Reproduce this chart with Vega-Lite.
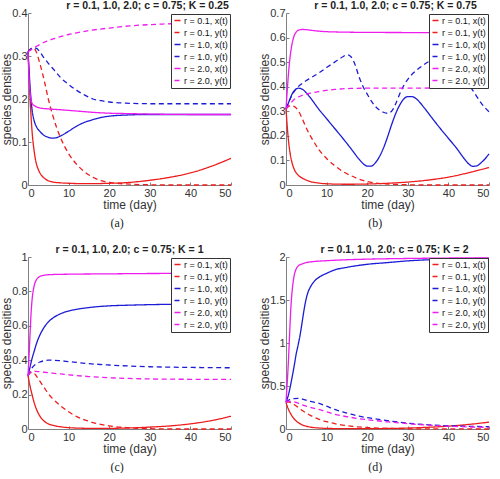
{
  "$schema": "https://vega.github.io/schema/vega-lite/v6.json",
  "padding": {"left": 0, "top": 0, "right": 0, "bottom": 0},
  "background": "white",
  "config": {
    "view": {"stroke": null},
    "font": "Liberation Sans",
    "axis": {"grid": false, "domainColor": "#808080", "tickColor": "#808080", "tickSize": -3, "labelColor": "#333333", "titleColor": "#333333", "labelFont": "Liberation Sans", "titleFont": "Liberation Sans", "labelFontSize": 11, "titleFontSize": 12, "titleFontWeight": "normal"},
    "axisX": {"titlePadding": 1, "labelPadding": 5},
    "axisY": {"titlePadding": -2, "labelPadding": 4},
    "title": {"font": "Liberation Sans", "fontSize": 10.5, "fontWeight": "bold", "color": "#222222", "offset": -4, "anchor": "middle"},
    "legend": {"orient": "top-right", "offset": 1, "fillColor": "white", "strokeColor": "#333333", "padding": 2, "labelFontSize": 9, "labelOffset": 2, "labelColor": "#111111", "rowPadding": 2, "symbolType": "stroke", "symbolSize": 36, "symbolStrokeWidth": 1.5, "title": null}
  },
  "datasets": {
    "a": [
      {"s":"x1","t":0,"v":0.31},{"s":"x1","t":0.25,"v":0.26},{"s":"x1","t":0.5,"v":0.2},{"s":"x1","t":0.75,"v":0.16},{"s":"x1","t":1,"v":0.125},{"s":"x1","t":1.5,"v":0.08},{"s":"x1","t":2,"v":0.052},{"s":"x1","t":2.5,"v":0.037},{"s":"x1","t":3,"v":0.027},{"s":"x1","t":4,"v":0.016},{"s":"x1","t":5,"v":0.01},{"s":"x1","t":6,"v":0.007},{"s":"x1","t":8,"v":0.005},{"s":"x1","t":10,"v":0.004},{"s":"x1","t":15,"v":0.003},{"s":"x1","t":20,"v":0.004},{"s":"x1","t":25,"v":0.006},{"s":"x1","t":30,"v":0.011},{"s":"x1","t":35,"v":0.018},{"s":"x1","t":40,"v":0.028},{"s":"x1","t":45,"v":0.043},{"s":"x1","t":50,"v":0.062},
      {"s":"y1","t":0,"v":0.31},{"s":"y1","t":0.5,"v":0.315},{"s":"y1","t":1,"v":0.318},{"s":"y1","t":1.5,"v":0.318},{"s":"y1","t":2,"v":0.31},{"s":"y1","t":3,"v":0.28},{"s":"y1","t":4,"v":0.243},{"s":"y1","t":5,"v":0.2},{"s":"y1","t":6,"v":0.165},{"s":"y1","t":7,"v":0.135},{"s":"y1","t":8,"v":0.11},{"s":"y1","t":9,"v":0.09},{"s":"y1","t":10,"v":0.073},{"s":"y1","t":12,"v":0.048},{"s":"y1","t":14,"v":0.03},{"s":"y1","t":16,"v":0.018},{"s":"y1","t":18,"v":0.01},{"s":"y1","t":20,"v":0.006},{"s":"y1","t":25,"v":0.002},{"s":"y1","t":30,"v":0.0005},{"s":"y1","t":35,"v":0},{"s":"y1","t":50,"v":0},
      {"s":"x2","t":0,"v":0.31},{"s":"x2","t":0.25,"v":0.27},{"s":"x2","t":0.5,"v":0.23},{"s":"x2","t":1,"v":0.175},{"s":"x2","t":1.5,"v":0.15},{"s":"x2","t":2,"v":0.137},{"s":"x2","t":3,"v":0.124},{"s":"x2","t":4,"v":0.115},{"s":"x2","t":5,"v":0.111},{"s":"x2","t":6,"v":0.109},{"s":"x2","t":7,"v":0.11},{"s":"x2","t":8,"v":0.114},{"s":"x2","t":10,"v":0.125},{"s":"x2","t":12,"v":0.137},{"s":"x2","t":14,"v":0.146},{"s":"x2","t":16,"v":0.152},{"s":"x2","t":18,"v":0.157},{"s":"x2","t":20,"v":0.16},{"s":"x2","t":25,"v":0.163},{"s":"x2","t":30,"v":0.164},{"s":"x2","t":50,"v":0.164},
      {"s":"y2","t":0,"v":0.31},{"s":"y2","t":0.5,"v":0.315},{"s":"y2","t":1,"v":0.318},{"s":"y2","t":2,"v":0.318},{"s":"y2","t":3,"v":0.308},{"s":"y2","t":4,"v":0.295},{"s":"y2","t":5,"v":0.283},{"s":"y2","t":6,"v":0.272},{"s":"y2","t":7,"v":0.261},{"s":"y2","t":8,"v":0.25},{"s":"y2","t":10,"v":0.234},{"s":"y2","t":12,"v":0.22},{"s":"y2","t":14,"v":0.209},{"s":"y2","t":16,"v":0.2},{"s":"y2","t":18,"v":0.196},{"s":"y2","t":20,"v":0.193},{"s":"y2","t":25,"v":0.19},{"s":"y2","t":30,"v":0.189},{"s":"y2","t":50,"v":0.189},
      {"s":"x3","t":0,"v":0.31},{"s":"x3","t":0.25,"v":0.25},{"s":"x3","t":0.5,"v":0.215},{"s":"x3","t":0.75,"v":0.198},{"s":"x3","t":1,"v":0.19},{"s":"x3","t":1.5,"v":0.185},{"s":"x3","t":2,"v":0.182},{"s":"x3","t":3,"v":0.179},{"s":"x3","t":5,"v":0.177},{"s":"x3","t":8,"v":0.175},{"s":"x3","t":12,"v":0.172},{"s":"x3","t":16,"v":0.169},{"s":"x3","t":20,"v":0.167},{"s":"x3","t":25,"v":0.166},{"s":"x3","t":30,"v":0.165},{"s":"x3","t":40,"v":0.164},{"s":"x3","t":50,"v":0.164},
      {"s":"y3","t":0,"v":0.31},{"s":"y3","t":1,"v":0.316},{"s":"y3","t":2,"v":0.322},{"s":"y3","t":4,"v":0.332},{"s":"y3","t":6,"v":0.339},{"s":"y3","t":8,"v":0.345},{"s":"y3","t":10,"v":0.35},{"s":"y3","t":12,"v":0.354},{"s":"y3","t":15,"v":0.359},{"s":"y3","t":20,"v":0.365},{"s":"y3","t":25,"v":0.37},{"s":"y3","t":30,"v":0.373},{"s":"y3","t":35,"v":0.375},{"s":"y3","t":40,"v":0.377},{"s":"y3","t":45,"v":0.378},{"s":"y3","t":50,"v":0.379}
    ],
    "b": [
      {"s":"x1","t":0,"v":0.31},{"s":"x1","t":0.25,"v":0.25},{"s":"x1","t":0.5,"v":0.2},{"s":"x1","t":1,"v":0.13},{"s":"x1","t":1.5,"v":0.09},{"s":"x1","t":2,"v":0.065},{"s":"x1","t":3,"v":0.04},{"s":"x1","t":4,"v":0.028},{"s":"x1","t":5,"v":0.02},{"s":"x1","t":6,"v":0.014},{"s":"x1","t":8,"v":0.008},{"s":"x1","t":10,"v":0.005},{"s":"x1","t":15,"v":0.003},{"s":"x1","t":20,"v":0.004},{"s":"x1","t":25,"v":0.007},{"s":"x1","t":30,"v":0.012},{"s":"x1","t":35,"v":0.02},{"s":"x1","t":40,"v":0.032},{"s":"x1","t":45,"v":0.05},{"s":"x1","t":50,"v":0.071},
      {"s":"y1","t":0,"v":0.31},{"s":"y1","t":0.5,"v":0.318},{"s":"y1","t":1,"v":0.322},{"s":"y1","t":1.5,"v":0.323},{"s":"y1","t":2,"v":0.32},{"s":"y1","t":3,"v":0.303},{"s":"y1","t":4,"v":0.27},{"s":"y1","t":5,"v":0.232},{"s":"y1","t":6,"v":0.2},{"s":"y1","t":7,"v":0.172},{"s":"y1","t":8,"v":0.146},{"s":"y1","t":10,"v":0.108},{"s":"y1","t":12,"v":0.079},{"s":"y1","t":14,"v":0.055},{"s":"y1","t":16,"v":0.038},{"s":"y1","t":18,"v":0.024},{"s":"y1","t":20,"v":0.014},{"s":"y1","t":25,"v":0.004},{"s":"y1","t":30,"v":0.001},{"s":"y1","t":35,"v":0},{"s":"y1","t":50,"v":0},
      {"s":"x2","t":0,"v":0.31},{"s":"x2","t":0.5,"v":0.33},{"s":"x2","t":1,"v":0.35},{"s":"x2","t":1.5,"v":0.37},{"s":"x2","t":2,"v":0.383},{"s":"x2","t":3,"v":0.394},{"s":"x2","t":4,"v":0.39},{"s":"x2","t":5,"v":0.375},{"s":"x2","t":6,"v":0.355},{"s":"x2","t":8,"v":0.31},{"s":"x2","t":10,"v":0.27},{"s":"x2","t":12,"v":0.23},{"s":"x2","t":14,"v":0.19},{"s":"x2","t":16,"v":0.148},{"s":"x2","t":18,"v":0.105},{"s":"x2","t":19,"v":0.087},{"s":"x2","t":20,"v":0.077},{"s":"x2","t":21,"v":0.077},{"s":"x2","t":22,"v":0.09},{"s":"x2","t":23,"v":0.115},{"s":"x2","t":24,"v":0.15},{"s":"x2","t":25,"v":0.195},{"s":"x2","t":26,"v":0.245},{"s":"x2","t":27,"v":0.29},{"s":"x2","t":28,"v":0.325},{"s":"x2","t":29,"v":0.35},{"s":"x2","t":30,"v":0.36},{"s":"x2","t":31,"v":0.36},{"s":"x2","t":32,"v":0.352},{"s":"x2","t":34,"v":0.315},{"s":"x2","t":36,"v":0.272},{"s":"x2","t":38,"v":0.23},{"s":"x2","t":40,"v":0.19},{"s":"x2","t":42,"v":0.15},{"s":"x2","t":44,"v":0.105},{"s":"x2","t":45,"v":0.086},{"s":"x2","t":46,"v":0.076},{"s":"x2","t":47,"v":0.078},{"s":"x2","t":48,"v":0.09},{"s":"x2","t":49,"v":0.106},{"s":"x2","t":50,"v":0.127},
      {"s":"y2","t":0,"v":0.31},{"s":"y2","t":1,"v":0.35},{"s":"y2","t":2,"v":0.38},{"s":"y2","t":3,"v":0.4},{"s":"y2","t":4,"v":0.413},{"s":"y2","t":5,"v":0.425},{"s":"y2","t":6,"v":0.435},{"s":"y2","t":8,"v":0.455},{"s":"y2","t":10,"v":0.478},{"s":"y2","t":12,"v":0.5},{"s":"y2","t":14,"v":0.522},{"s":"y2","t":15,"v":0.53},{"s":"y2","t":16,"v":0.522},{"s":"y2","t":17,"v":0.49},{"s":"y2","t":18,"v":0.44},{"s":"y2","t":19,"v":0.4},{"s":"y2","t":20,"v":0.37},{"s":"y2","t":21,"v":0.342},{"s":"y2","t":22,"v":0.32},{"s":"y2","t":23,"v":0.305},{"s":"y2","t":24,"v":0.296},{"s":"y2","t":25,"v":0.292},{"s":"y2","t":26,"v":0.3},{"s":"y2","t":27,"v":0.33},{"s":"y2","t":28,"v":0.37},{"s":"y2","t":29,"v":0.405},{"s":"y2","t":30,"v":0.43},{"s":"y2","t":32,"v":0.465},{"s":"y2","t":34,"v":0.49},{"s":"y2","t":36,"v":0.51},{"s":"y2","t":38,"v":0.525},{"s":"y2","t":40,"v":0.532},{"s":"y2","t":41,"v":0.528},{"s":"y2","t":42,"v":0.51},{"s":"y2","t":43,"v":0.47},{"s":"y2","t":44,"v":0.435},{"s":"y2","t":45,"v":0.41},{"s":"y2","t":46,"v":0.385},{"s":"y2","t":47,"v":0.36},{"s":"y2","t":48,"v":0.335},{"s":"y2","t":49,"v":0.315},{"s":"y2","t":50,"v":0.298},
      {"s":"x3","t":0,"v":0.31},{"s":"x3","t":0.25,"v":0.37},{"s":"x3","t":0.5,"v":0.43},{"s":"x3","t":1,"v":0.52},{"s":"x3","t":1.5,"v":0.575},{"s":"x3","t":2,"v":0.607},{"s":"x3","t":2.5,"v":0.622},{"s":"x3","t":3,"v":0.63},{"s":"x3","t":4,"v":0.633},{"s":"x3","t":5,"v":0.632},{"s":"x3","t":7,"v":0.628},{"s":"x3","t":10,"v":0.624},{"s":"x3","t":15,"v":0.622},{"s":"x3","t":20,"v":0.621},{"s":"x3","t":50,"v":0.62},
      {"s":"y3","t":0,"v":0.31},{"s":"y3","t":1,"v":0.33},{"s":"y3","t":2,"v":0.348},{"s":"y3","t":3,"v":0.358},{"s":"y3","t":4,"v":0.365},{"s":"y3","t":5,"v":0.37},{"s":"y3","t":6,"v":0.374},{"s":"y3","t":8,"v":0.38},{"s":"y3","t":10,"v":0.385},{"s":"y3","t":12,"v":0.389},{"s":"y3","t":16,"v":0.393},{"s":"y3","t":20,"v":0.394},{"s":"y3","t":50,"v":0.395}
    ],
    "c": [
      {"s":"x1","t":0,"v":0.31},{"s":"x1","t":0.5,"v":0.25},{"s":"x1","t":1,"v":0.2},{"s":"x1","t":1.5,"v":0.155},{"s":"x1","t":2,"v":0.12},{"s":"x1","t":3,"v":0.072},{"s":"x1","t":4,"v":0.045},{"s":"x1","t":5,"v":0.03},{"s":"x1","t":6,"v":0.022},{"s":"x1","t":8,"v":0.013},{"s":"x1","t":10,"v":0.008},{"s":"x1","t":15,"v":0.004},{"s":"x1","t":20,"v":0.004},{"s":"x1","t":25,"v":0.006},{"s":"x1","t":30,"v":0.011},{"s":"x1","t":35,"v":0.018},{"s":"x1","t":40,"v":0.03},{"s":"x1","t":45,"v":0.048},{"s":"x1","t":50,"v":0.074},
      {"s":"y1","t":0,"v":0.31},{"s":"y1","t":0.5,"v":0.325},{"s":"y1","t":1,"v":0.33},{"s":"y1","t":1.5,"v":0.325},{"s":"y1","t":2,"v":0.31},{"s":"y1","t":3,"v":0.275},{"s":"y1","t":4,"v":0.24},{"s":"y1","t":5,"v":0.205},{"s":"y1","t":6,"v":0.178},{"s":"y1","t":8,"v":0.135},{"s":"y1","t":10,"v":0.1},{"s":"y1","t":12,"v":0.072},{"s":"y1","t":15,"v":0.045},{"s":"y1","t":20,"v":0.018},{"s":"y1","t":25,"v":0.007},{"s":"y1","t":30,"v":0.002},{"s":"y1","t":35,"v":0},{"s":"y1","t":50,"v":0},
      {"s":"x2","t":0,"v":0.31},{"s":"x2","t":0.5,"v":0.36},{"s":"x2","t":1,"v":0.41},{"s":"x2","t":1.5,"v":0.45},{"s":"x2","t":2,"v":0.49},{"s":"x2","t":3,"v":0.55},{"s":"x2","t":4,"v":0.592},{"s":"x2","t":5,"v":0.622},{"s":"x2","t":6,"v":0.643},{"s":"x2","t":7,"v":0.658},{"s":"x2","t":8,"v":0.67},{"s":"x2","t":10,"v":0.686},{"s":"x2","t":12,"v":0.696},{"s":"x2","t":15,"v":0.706},{"s":"x2","t":18,"v":0.713},{"s":"x2","t":20,"v":0.716},{"s":"x2","t":25,"v":0.72},{"s":"x2","t":30,"v":0.723},{"s":"x2","t":40,"v":0.726},{"s":"x2","t":50,"v":0.727},
      {"s":"y2","t":0,"v":0.31},{"s":"y2","t":0.5,"v":0.33},{"s":"y2","t":1,"v":0.355},{"s":"y2","t":2,"v":0.378},{"s":"y2","t":3,"v":0.39},{"s":"y2","t":4,"v":0.397},{"s":"y2","t":5,"v":0.4},{"s":"y2","t":6,"v":0.4},{"s":"y2","t":8,"v":0.397},{"s":"y2","t":10,"v":0.392},{"s":"y2","t":15,"v":0.38},{"s":"y2","t":20,"v":0.372},{"s":"y2","t":25,"v":0.366},{"s":"y2","t":30,"v":0.362},{"s":"y2","t":40,"v":0.358},{"s":"y2","t":50,"v":0.356},
      {"s":"x3","t":0,"v":0.31},{"s":"x3","t":0.25,"v":0.42},{"s":"x3","t":0.5,"v":0.55},{"s":"x3","t":0.75,"v":0.67},{"s":"x3","t":1,"v":0.75},{"s":"x3","t":1.5,"v":0.83},{"s":"x3","t":2,"v":0.865},{"s":"x3","t":2.5,"v":0.88},{"s":"x3","t":3,"v":0.888},{"s":"x3","t":4,"v":0.894},{"s":"x3","t":6,"v":0.898},{"s":"x3","t":10,"v":0.9},{"s":"x3","t":20,"v":0.902},{"s":"x3","t":30,"v":0.904},{"s":"x3","t":50,"v":0.905},
      {"s":"y3","t":0,"v":0.31},{"s":"y3","t":0.5,"v":0.328},{"s":"y3","t":1,"v":0.335},{"s":"y3","t":1.5,"v":0.336},{"s":"y3","t":2,"v":0.335},{"s":"y3","t":4,"v":0.33},{"s":"y3","t":6,"v":0.325},{"s":"y3","t":8,"v":0.32},{"s":"y3","t":10,"v":0.315},{"s":"y3","t":15,"v":0.305},{"s":"y3","t":20,"v":0.298},{"s":"y3","t":25,"v":0.294},{"s":"y3","t":30,"v":0.291},{"s":"y3","t":40,"v":0.289},{"s":"y3","t":50,"v":0.288}
    ],
    "d": [
      {"s":"x1","t":0,"v":0.31},{"s":"x1","t":0.5,"v":0.24},{"s":"x1","t":1,"v":0.19},{"s":"x1","t":1.5,"v":0.15},{"s":"x1","t":2,"v":0.118},{"s":"x1","t":3,"v":0.075},{"s":"x1","t":4,"v":0.048},{"s":"x1","t":5,"v":0.032},{"s":"x1","t":6,"v":0.022},{"s":"x1","t":8,"v":0.012},{"s":"x1","t":10,"v":0.007},{"s":"x1","t":15,"v":0.004},{"s":"x1","t":20,"v":0.004},{"s":"x1","t":25,"v":0.006},{"s":"x1","t":30,"v":0.011},{"s":"x1","t":35,"v":0.02},{"s":"x1","t":40,"v":0.033},{"s":"x1","t":45,"v":0.053},{"s":"x1","t":50,"v":0.08},
      {"s":"y1","t":0,"v":0.31},{"s":"y1","t":0.5,"v":0.315},{"s":"y1","t":1,"v":0.31},{"s":"y1","t":2,"v":0.285},{"s":"y1","t":3,"v":0.25},{"s":"y1","t":4,"v":0.215},{"s":"y1","t":5,"v":0.185},{"s":"y1","t":6,"v":0.158},{"s":"y1","t":8,"v":0.115},{"s":"y1","t":10,"v":0.085},{"s":"y1","t":12,"v":0.062},{"s":"y1","t":15,"v":0.038},{"s":"y1","t":20,"v":0.017},{"s":"y1","t":25,"v":0.008},{"s":"y1","t":30,"v":0.003},{"s":"y1","t":40,"v":0.001},{"s":"y1","t":50,"v":0},
      {"s":"x2","t":0,"v":0.31},{"s":"x2","t":0.5,"v":0.38},{"s":"x2","t":1,"v":0.48},{"s":"x2","t":1.5,"v":0.6},{"s":"x2","t":2,"v":0.73},{"s":"x2","t":2.5,"v":0.87},{"s":"x2","t":3,"v":0.98},{"s":"x2","t":3.5,"v":1.1},{"s":"x2","t":4,"v":1.25},{"s":"x2","t":4.5,"v":1.4},{"s":"x2","t":5,"v":1.52},{"s":"x2","t":5.5,"v":1.6},{"s":"x2","t":6,"v":1.65},{"s":"x2","t":7,"v":1.72},{"s":"x2","t":8,"v":1.76},{"s":"x2","t":10,"v":1.81},{"s":"x2","t":12,"v":1.85},{"s":"x2","t":15,"v":1.88},{"s":"x2","t":20,"v":1.915},{"s":"x2","t":25,"v":1.935},{"s":"x2","t":30,"v":1.955},{"s":"x2","t":40,"v":1.975},{"s":"x2","t":50,"v":1.985},
      {"s":"y2","t":0,"v":0.31},{"s":"y2","t":0.5,"v":0.33},{"s":"y2","t":1,"v":0.345},{"s":"y2","t":2,"v":0.354},{"s":"y2","t":3,"v":0.355},{"s":"y2","t":4,"v":0.348},{"s":"y2","t":5,"v":0.335},{"s":"y2","t":6,"v":0.322},{"s":"y2","t":8,"v":0.3},{"s":"y2","t":10,"v":0.265},{"s":"y2","t":12,"v":0.228},{"s":"y2","t":14,"v":0.198},{"s":"y2","t":16,"v":0.172},{"s":"y2","t":18,"v":0.15},{"s":"y2","t":20,"v":0.132},{"s":"y2","t":22,"v":0.118},{"s":"y2","t":25,"v":0.098},{"s":"y2","t":28,"v":0.078},{"s":"y2","t":30,"v":0.068},{"s":"y2","t":35,"v":0.049},{"s":"y2","t":40,"v":0.038},{"s":"y2","t":45,"v":0.031},{"s":"y2","t":50,"v":0.027},
      {"s":"x3","t":0,"v":0.31},{"s":"x3","t":0.25,"v":0.5},{"s":"x3","t":0.5,"v":0.7},{"s":"x3","t":0.75,"v":0.95},{"s":"x3","t":1,"v":1.22},{"s":"x3","t":1.25,"v":1.45},{"s":"x3","t":1.5,"v":1.6},{"s":"x3","t":2,"v":1.78},{"s":"x3","t":2.5,"v":1.86},{"s":"x3","t":3,"v":1.895},{"s":"x3","t":4,"v":1.92},{"s":"x3","t":5,"v":1.935},{"s":"x3","t":7,"v":1.948},{"s":"x3","t":10,"v":1.957},{"s":"x3","t":15,"v":1.968},{"s":"x3","t":20,"v":1.975},{"s":"x3","t":30,"v":1.983},{"s":"x3","t":40,"v":1.988},{"s":"x3","t":50,"v":1.99},
      {"s":"y3","t":0,"v":0.31},{"s":"y3","t":0.5,"v":0.32},{"s":"y3","t":1,"v":0.322},{"s":"y3","t":2,"v":0.315},{"s":"y3","t":3,"v":0.3},{"s":"y3","t":4,"v":0.28},{"s":"y3","t":6,"v":0.252},{"s":"y3","t":8,"v":0.228},{"s":"y3","t":10,"v":0.2},{"s":"y3","t":12,"v":0.172},{"s":"y3","t":14,"v":0.152},{"s":"y3","t":16,"v":0.135},{"s":"y3","t":20,"v":0.108},{"s":"y3","t":25,"v":0.084},{"s":"y3","t":30,"v":0.062},{"s":"y3","t":35,"v":0.045},{"s":"y3","t":40,"v":0.033},{"s":"y3","t":45,"v":0.024},{"s":"y3","t":50,"v":0.019}
    ]
  },
  "columns": 2,
  "spacing": {"row": 15, "column": 24},
  "resolve": {"scale": {"color": "independent", "strokeDash": "independent"}, "legend": {"color": "independent", "strokeDash": "independent"}},
  "concat": [
    {
      "title": {"text": "(a)", "orient": "bottom", "font": "Liberation Serif", "fontSize": 12, "fontWeight": "normal", "color": "#222222", "offset": 8},
      "resolve": {"scale": {"color": "independent", "strokeDash": "independent"}, "legend": {"color": "independent", "strokeDash": "independent"}},
      "vconcat": [
        {
          "title": {"text": "r = 0.1, 1.0, 2.0; c = 0.75; K = 0.25", "dx": 18},
          "width": 203, "height": 172,
          "data": {"name": "a"},
          "mark": {"type": "line", "interpolate": "monotone", "strokeWidth": 1.3},
          "encoding": {
            "x": {"field": "t", "type": "quantitative", "scale": {"domain": [0, 50]}, "axis": {"title": "time (day)", "values": [0, 10, 20, 30, 40, 50]}},
            "y": {"field": "v", "type": "quantitative", "scale": {"domain": [0, 0.4]}, "axis": {"title": "species densities", "values": [0, 0.1, 0.2, 0.3, 0.4], "format": "~g"}},
            "color": {"field": "s", "type": "nominal", "scale": {"domain": ["x1", "y1", "x2", "y2", "x3", "y3"], "range": ["#ee1c1c", "#ee1c1c", "#1c1cd6", "#1c1cd6", "#ee1cee", "#ee1cee"]},
              "legend": {"orient": "top-right", "offset": 1, "fillColor": "white", "strokeColor": "#333333", "title": null, "labelExpr": "{'x1':'r = 0.1, x(t)','y1':'r = 0.1, y(t)','x2':'r = 1.0, x(t)','y2':'r = 1.0, y(t)','x3':'r = 2.0, x(t)','y3':'r = 2.0, y(t)'}[datum.label]",
                "encode": {"legend": {"update": {"fill": {"value": "white"}, "stroke": {"value": "#333333"}, "strokeWidth": {"value": 1}}}, "symbols": {"update": {"strokeDash": {"signal": "indexof(datum.value, 'y') === 0 ? [3, 2] : [1, 0]"}}}}}},
            "strokeDash": {"field": "s", "type": "nominal", "legend": null, "scale": {"domain": ["x1", "y1", "x2", "y2", "x3", "y3"], "range": [[1, 0], [5, 3.5], [1, 0], [5, 3.5], [1, 0], [5, 3.5]]}}
          }
        }
      ]
    },
    {
      "title": {"text": "(b)", "orient": "bottom", "font": "Liberation Serif", "fontSize": 12, "fontWeight": "normal", "color": "#222222", "offset": 8},
      "resolve": {"scale": {"color": "independent", "strokeDash": "independent"}, "legend": {"color": "independent", "strokeDash": "independent"}},
      "vconcat": [
        {
          "title": {"text": "r = 0.1, 1.0, 2.0; c = 0.75; K = 0.75", "dx": 8},
          "width": 203, "height": 172,
          "data": {"name": "b"},
          "mark": {"type": "line", "interpolate": "monotone", "strokeWidth": 1.3},
          "encoding": {
            "x": {"field": "t", "type": "quantitative", "scale": {"domain": [0, 50]}, "axis": {"title": "time (day)", "values": [0, 10, 20, 30, 40, 50]}},
            "y": {"field": "v", "type": "quantitative", "scale": {"domain": [0, 0.7]}, "axis": {"title": "species densities", "values": [0, 0.1, 0.2, 0.3, 0.4, 0.5, 0.6, 0.7], "format": "~g"}},
            "color": {"field": "s", "type": "nominal", "scale": {"domain": ["x1", "y1", "x2", "y2", "x3", "y3"], "range": ["#ee1c1c", "#ee1c1c", "#1c1cd6", "#1c1cd6", "#ee1cee", "#ee1cee"]},
              "legend": {"orient": "top-right", "offset": 1, "fillColor": "white", "strokeColor": "#333333", "title": null, "labelExpr": "{'x1':'r = 0.1, x(t)','y1':'r = 0.1, y(t)','x2':'r = 1.0, x(t)','y2':'r = 1.0, y(t)','x3':'r = 2.0, x(t)','y3':'r = 2.0, y(t)'}[datum.label]",
                "encode": {"legend": {"update": {"fill": {"value": "white"}, "stroke": {"value": "#333333"}, "strokeWidth": {"value": 1}}}, "symbols": {"update": {"strokeDash": {"signal": "indexof(datum.value, 'y') === 0 ? [3, 2] : [1, 0]"}}}}}},
            "strokeDash": {"field": "s", "type": "nominal", "legend": null, "scale": {"domain": ["x1", "y1", "x2", "y2", "x3", "y3"], "range": [[1, 0], [5, 3.5], [1, 0], [5, 3.5], [1, 0], [5, 3.5]]}}
          }
        }
      ]
    },
    {
      "title": {"text": "(c)", "orient": "bottom", "font": "Liberation Serif", "fontSize": 12, "fontWeight": "normal", "color": "#222222", "offset": 8},
      "resolve": {"scale": {"color": "independent", "strokeDash": "independent"}, "legend": {"color": "independent", "strokeDash": "independent"}},
      "vconcat": [
        {
          "title": {"text": "r = 0.1, 1.0, 2.0; c = 0.75; K = 1"},
          "width": 203, "height": 172,
          "data": {"name": "c"},
          "mark": {"type": "line", "interpolate": "monotone", "strokeWidth": 1.3},
          "encoding": {
            "x": {"field": "t", "type": "quantitative", "scale": {"domain": [0, 50]}, "axis": {"title": "time (day)", "values": [0, 10, 20, 30, 40, 50]}},
            "y": {"field": "v", "type": "quantitative", "scale": {"domain": [0, 1]}, "axis": {"title": "species densities", "values": [0, 0.2, 0.4, 0.6, 0.8, 1], "format": "~g"}},
            "color": {"field": "s", "type": "nominal", "scale": {"domain": ["x1", "y1", "x2", "y2", "x3", "y3"], "range": ["#ee1c1c", "#ee1c1c", "#1c1cd6", "#1c1cd6", "#ee1cee", "#ee1cee"]},
              "legend": {"orient": "top-right", "offset": 1, "fillColor": "white", "strokeColor": "#333333", "title": null, "labelExpr": "{'x1':'r = 0.1, x(t)','y1':'r = 0.1, y(t)','x2':'r = 1.0, x(t)','y2':'r = 1.0, y(t)','x3':'r = 2.0, x(t)','y3':'r = 2.0, y(t)'}[datum.label]",
                "encode": {"legend": {"update": {"fill": {"value": "white"}, "stroke": {"value": "#333333"}, "strokeWidth": {"value": 1}}}, "symbols": {"update": {"strokeDash": {"signal": "indexof(datum.value, 'y') === 0 ? [3, 2] : [1, 0]"}}}}}},
            "strokeDash": {"field": "s", "type": "nominal", "legend": null, "scale": {"domain": ["x1", "y1", "x2", "y2", "x3", "y3"], "range": [[1, 0], [5, 3.5], [1, 0], [5, 3.5], [1, 0], [5, 3.5]]}}
          }
        }
      ]
    },
    {
      "title": {"text": "(d)", "orient": "bottom", "font": "Liberation Serif", "fontSize": 12, "fontWeight": "normal", "color": "#222222", "offset": 8},
      "resolve": {"scale": {"color": "independent", "strokeDash": "independent"}, "legend": {"color": "independent", "strokeDash": "independent"}},
      "vconcat": [
        {
          "title": {"text": "r = 0.1, 1.0, 2.0; c = 0.75; K = 2", "dx": 7},
          "width": 203, "height": 172,
          "data": {"name": "d"},
          "mark": {"type": "line", "interpolate": "monotone", "strokeWidth": 1.3},
          "encoding": {
            "x": {"field": "t", "type": "quantitative", "scale": {"domain": [0, 50]}, "axis": {"title": "time (day)", "values": [0, 10, 20, 30, 40, 50]}},
            "y": {"field": "v", "type": "quantitative", "scale": {"domain": [0, 2]}, "axis": {"title": "species densities", "values": [0, 0.5, 1, 1.5, 2], "format": "~g"}},
            "color": {"field": "s", "type": "nominal", "scale": {"domain": ["x1", "y1", "x2", "y2", "x3", "y3"], "range": ["#ee1c1c", "#ee1c1c", "#1c1cd6", "#1c1cd6", "#ee1cee", "#ee1cee"]},
              "legend": {"orient": "top-right", "offset": 1, "fillColor": "white", "strokeColor": "#333333", "title": null, "labelExpr": "{'x1':'r = 0.1, x(t)','y1':'r = 0.1, y(t)','x2':'r = 1.0, x(t)','y2':'r = 1.0, y(t)','x3':'r = 2.0, x(t)','y3':'r = 2.0, y(t)'}[datum.label]",
                "encode": {"legend": {"update": {"fill": {"value": "white"}, "stroke": {"value": "#333333"}, "strokeWidth": {"value": 1}}}, "symbols": {"update": {"strokeDash": {"signal": "indexof(datum.value, 'y') === 0 ? [3, 2] : [1, 0]"}}}}}},
            "strokeDash": {"field": "s", "type": "nominal", "legend": null, "scale": {"domain": ["x1", "y1", "x2", "y2", "x3", "y3"], "range": [[1, 0], [5, 3.5], [1, 0], [5, 3.5], [1, 0], [5, 3.5]]}}
          }
        }
      ]
    }
  ]
}
